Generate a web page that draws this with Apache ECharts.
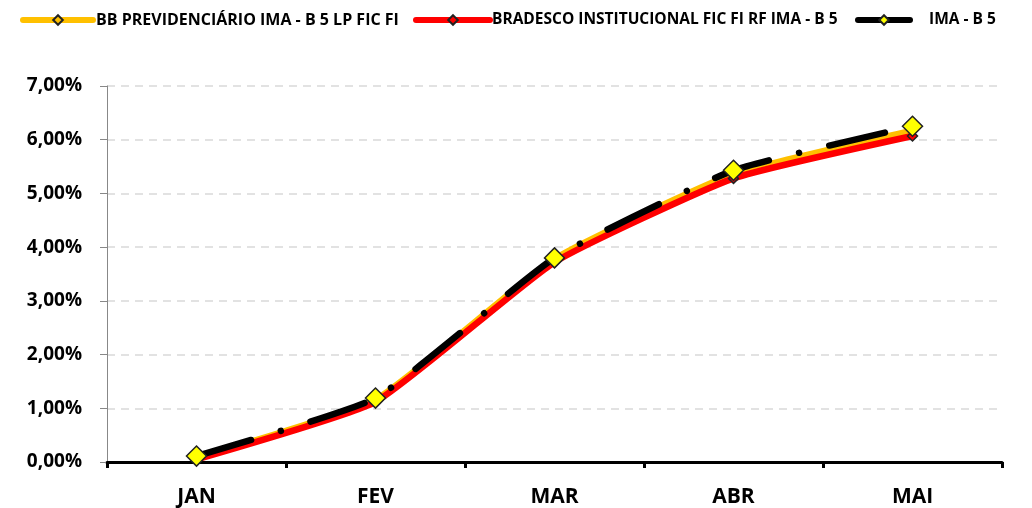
<!DOCTYPE html>
<html>
<head>
<meta charset="utf-8">
<script src="https://cdn.jsdelivr.net/npm/echarts@6/dist/echarts.min.js"></script>
<style>
  html, body { margin: 0; padding: 0; background: #fff; }
  #chart { width: 1032px; height: 508px; }
</style>
</head>
<body>
<div id="chart"></div>
<script>
// meses
var months = ['JAN', 'FEV', 'MAR', 'ABR', 'MAI'];
// rentabilidade acumulada (%)
var bbPrev = [0.08, 1.16, 3.78, 5.36, 6.17];
var bradesco = [0.05, 1.12, 3.72, 5.28, 6.07];
var imaB5 = [0.11, 1.19, 3.80, 5.43, 6.25];

var seriesNames = [
    'BB PREVIDENCIÁRIO IMA - B 5 LP FIC FI',
    'BRADESCO INSTITUCIONAL FIC FI RF IMA - B 5',
    'IMA - B 5'
];

var fontName = 'Open Sans';

// uma legenda por serie, para posicionar como no original
function makeLegend(idx, left, width, textPad, fontSize) {
    return {
        top: 7,
        left: left,
        itemWidth: width,
        itemHeight: 12,
        textStyle: {
            fontFamily: fontName, fontWeight: 'bold', fontSize: fontSize, color: '#000',
            padding: [0, 0, 0, textPad]
        },
        data: [{
            name: seriesNames[idx],
            lineStyle: { type: 'solid', width: 6, cap: 'round' }
        }]
    };
}

var myChart = echarts.init(document.getElementById('chart'));

var option = {
    backgroundColor: '#fff',
    animation: false,
    textStyle: { fontFamily: fontName },
    legend: [
        makeLegend(0, 15, 70, -2, 16),
        makeLegend(1, 408, 74, -3, 15.5),
        makeLegend(2, 850, 52, 14, 15.5)
    ],
    grid: { left: 107, right: 30, top: 86, bottom: 45 },
    xAxis: {
        type: 'category',
        data: months,
        boundaryGap: true,
        axisLine: { lineStyle: { color: '#000', width: 3 } },
        axisTick: { show: true, length: 6, lineStyle: { color: '#000', width: 3 } },
        axisLabel: { margin: 25, fontFamily: fontName, fontWeight: 'bold', fontSize: 21, color: '#000' }
    },
    yAxis: {
        type: 'value',
        min: 0,
        max: 7,
        interval: 1,
        axisLine: { show: true, lineStyle: { color: '#888', width: 1 } },
        axisTick: { show: true, length: 7, lineStyle: { color: '#888' } },
        axisLabel: {
            margin: 25,
            fontFamily: fontName, fontWeight: 'bold', fontSize: 19, color: '#000',
            formatter: function (v) { return v.toFixed(2).replace('.', ',') + '%'; }
        },
        splitLine: { lineStyle: { color: '#d9d9d9', type: [8, 6], width: 1.5 } }
    },
    series: [
        {
            name: seriesNames[0],
            type: 'line',
            data: bbPrev,
            smooth: 0.15,
            symbol: 'diamond',
            symbolSize: 10,
            itemStyle: { color: '#ffc000', borderColor: '#222', borderWidth: 1.5 },
            lineStyle: { color: '#ffc000', width: 6.5, cap: 'round' },
            z: 2
        },
        {
            name: seriesNames[1],
            type: 'line',
            data: bradesco,
            smooth: 0.15,
            symbol: 'diamond',
            symbolSize: 10,
            itemStyle: { color: '#ff0000', borderColor: '#222', borderWidth: 1.5 },
            lineStyle: { color: '#ff0000', width: 6.5, cap: 'round' },
            z: 3
        },
        {
            name: seriesNames[2],
            type: 'line',
            data: imaB5,
            smooth: 0.15,
            symbol: 'diamond',
            symbolSize: 20,
            itemStyle: { color: '#ffff00', borderColor: '#222', borderWidth: 1.5 },
            lineStyle: { color: '#000', width: 6.5, cap: 'round', type: [57, 31, 0.01, 31] },
            z: 4
        }
    ]
};

myChart.setOption(option);
</script>
</body>
</html>
